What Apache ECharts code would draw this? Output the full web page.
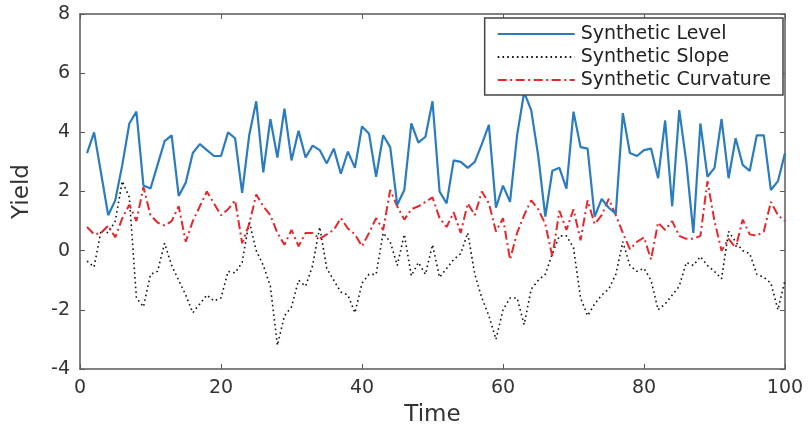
<!DOCTYPE html>
<html>
<head>
<meta charset="utf-8">
<script src="https://cdn.jsdelivr.net/npm/echarts@6/dist/echarts.min.js"></script>
<style>
  html, body { margin: 0; padding: 0; background: #fff; }
  #chart { width: 809px; height: 432px; }
</style>
</head>
<body>
<div id="chart"></div>
<script>
// Time index 1..100
const timeSteps = [];
for (let t = 1; t <= 100; t++) timeSteps.push(t);

const levelValues = [
  3.3, 4.0, 2.6, 1.2, 1.7, 2.9, 4.3, 4.7, 2.2, 2.1,
  2.9, 3.7, 3.9, 1.85, 2.3, 3.3, 3.6, 3.4, 3.2, 3.2,
  4.0, 3.8, 1.95, 3.9, 5.05, 2.65, 4.45, 3.15, 4.8, 3.05,
  4.05, 3.15, 3.55, 3.4, 2.95, 3.45, 2.6, 3.35, 2.8, 4.2,
  3.95, 2.5, 3.9, 3.5, 1.55, 2.05, 4.3, 3.65, 3.85, 5.05,
  2.0, 1.6, 3.05, 3.0, 2.8, 3.0, 3.6, 4.25, 1.45, 2.2,
  1.65, 3.9, 5.35, 4.75, 3.2, 1.15, 2.7, 2.8, 2.1, 4.7,
  3.5, 3.45, 1.15, 1.75, 1.45, 1.25, 4.65, 3.3, 3.2, 3.4,
  3.45, 2.45, 4.4, 1.5, 4.75, 3.0, 0.6, 4.3, 2.5, 2.8,
  4.45, 2.45, 3.8, 2.9, 2.7, 3.9, 3.9, 2.05, 2.35, 3.3
];

const slopeValues = [
  -0.35, -0.55, 0.7, 0.6, 1.0, 2.35, 1.8, -1.6, -1.9, -0.8,
  -0.7, 0.25, -0.5, -1.0, -1.5, -2.1, -1.8, -1.5, -1.7, -1.6,
  -0.7, -0.75, -0.4, 1.0, 0.0, -0.5, -1.2, -3.2, -2.2, -1.9,
  -1.0, -1.2, -0.5, 0.8, -0.6, -1.0, -1.4, -1.5, -2.1, -1.1,
  -0.8, -0.8, 0.6, 0.3, -0.5, 0.55, -0.85, -0.4, -0.8, 0.2,
  -0.9, -0.6, -0.3, -0.1, 0.6, -0.8, -1.6, -2.2, -3.0, -2.0,
  -1.6, -1.6, -2.5, -1.3, -1.0, -0.8, -0.1, 0.5, 0.5, 0.1,
  -1.6, -2.2, -1.8, -1.5, -1.3, -0.8, 0.3, -0.5, -0.7, -0.6,
  -1.0, -2.0, -1.8, -1.5, -1.2, -0.4, -0.5, -0.2, -0.5, -0.7,
  -0.95, 0.65, 0.3, 0.0, -0.1, -0.8, -0.9, -1.1, -2.0, -1.0
];

const curvatureValues = [
  0.8, 0.55, 0.6, 0.85, 0.45, 1.1, 1.55, 1.0, 2.15, 1.2,
  0.95, 0.85, 1.0, 1.5, 0.3, 1.0, 1.5, 2.0, 1.6, 1.2,
  1.4, 1.7, 0.25, 0.9, 1.9, 1.5, 1.2, 0.6, 0.2, 0.7,
  0.15, 0.6, 0.6, 0.4, 0.55, 0.7, 1.1, 0.75, 0.55, 0.15,
  0.6, 1.1, 0.7, 2.05, 1.5, 1.05, 1.4, 1.5, 1.65, 1.8,
  1.1, 0.8, 1.3, 0.6, 1.6, 1.2, 2.0, 1.6, 0.65, 1.1,
  -0.3, 0.6, 1.2, 1.7, 1.4, 0.9, -0.2, 1.35, 0.7, 1.4,
  0.35, 1.7, 0.9, 1.2, 1.75, 1.2, 0.6, 0.05, 0.3, 0.45,
  -0.3, 0.95, 0.7, 1.0, 0.5, 0.4, 0.4, 0.5, 2.35, 1.0,
  0.0, 0.4, 0.1, 1.05, 0.55, 0.5, 0.65, 1.65, 1.2, 1.0
];

const seriesNames = ['Synthetic Level', 'Synthetic Slope', 'Synthetic Curvature'];

const pair = (vals) => vals.map((v, i) => [timeSteps[i], v]);

const chart = echarts.init(document.getElementById('chart'), null, { renderer: 'canvas' });

const frameColor = '#5a5a5a';
const labelColor = '#333';
const font = 'DejaVu Sans, Verdana, sans-serif';

// Boxed frame: every side gets an axis line with inward ticks
const baseAxis = () => ({
  axisLine: { show: true, onZero: false, lineStyle: { color: frameColor, width: 1.5 } },
  axisTick: { show: true, inside: true, length: 5, lineStyle: { color: frameColor } },
  splitLine: { show: false }
});

chart.setOption({
  animation: false,
  grid: { left: 80, right: 24, top: 14, bottom: 59, containLabel: false },
  legend: {
    orient: 'vertical',
    right: 26,
    top: 18,
    align: 'left',
    itemWidth: 77,
    itemHeight: 14,
    itemGap: 3,
    padding: [6, 12, 5, 12],
    borderColor: '#444',
    borderWidth: 1.5,
    backgroundColor: '#fff',
    itemStyle: { opacity: 0 },
    textStyle: { fontFamily: font, fontSize: 19, lineHeight: 20, color: '#222', padding: [0, 0, 0, 1] },
    data: seriesNames
  },
  xAxis: [
    Object.assign(baseAxis(), {
      type: 'value', min: 0, max: 100, interval: 20,
      name: 'Time', nameLocation: 'middle', nameGap: 35,
      nameTextStyle: { fontFamily: font, fontSize: 23, color: labelColor },
      axisLabel: { fontFamily: font, fontSize: 19, color: labelColor, margin: 10 }
    }),
    Object.assign(baseAxis(), {
      type: 'value', min: 0, max: 100, interval: 20, position: 'top',
      axisLabel: { show: false }
    })
  ],
  yAxis: [
    Object.assign(baseAxis(), {
      type: 'value', min: -4, max: 8, interval: 2,
      name: 'Yield', nameLocation: 'middle', nameGap: 46, nameRotate: 90,
      nameTextStyle: { fontFamily: font, fontSize: 23, color: labelColor },
      axisLabel: { fontFamily: font, fontSize: 19, color: labelColor, margin: 10 }
    }),
    Object.assign(baseAxis(), {
      type: 'value', min: -4, max: 8, interval: 2, position: 'right',
      axisLabel: { show: false }
    })
  ],
  series: [
    {
      name: seriesNames[0], type: 'line', data: pair(levelValues),
      symbol: 'none', z: 3,
      lineStyle: { color: '#2a7cc0', width: 2.2 },
      itemStyle: { color: '#2a7cc0' }
    },
    {
      name: seriesNames[1], type: 'line', data: pair(slopeValues),
      symbol: 'none', z: 2,
      lineStyle: { color: '#111', width: 1.6, type: [1.6, 3.2] },
      itemStyle: { color: '#111' }
    },
    {
      name: seriesNames[2], type: 'line', data: pair(curvatureValues),
      symbol: 'none', z: 2,
      lineStyle: { color: '#e8262b', width: 2, type: [9, 3.5, 2, 3.5] },
      itemStyle: { color: '#e8262b' }
    }
  ]
});
</script>
</body>
</html>
